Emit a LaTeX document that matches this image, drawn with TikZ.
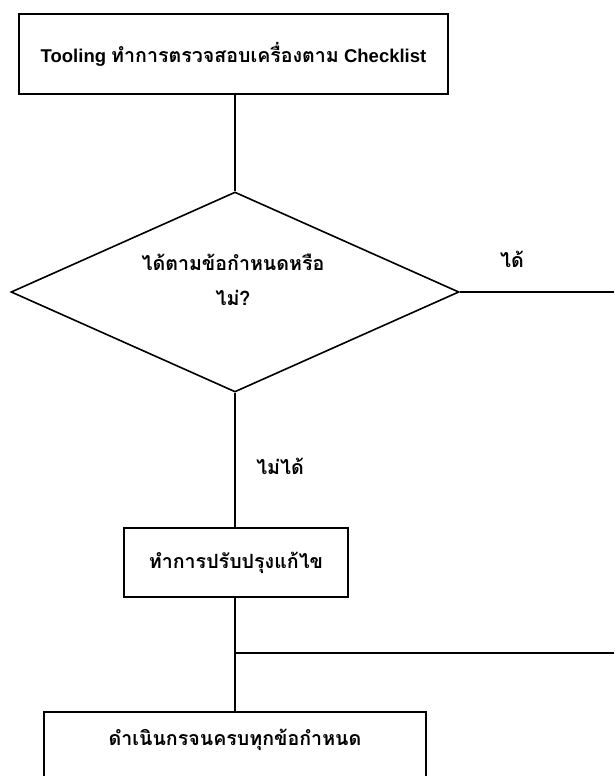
\documentclass[tikz,border=0pt]{standalone}
\usepackage{fontspec}
\setmainfont{Liberation Sans}
\newfontfamily\thai[Script=Thai,Scale=1.06]{Loma}
\usetikzlibrary{shapes.geometric}
\tikzset{
  box/.style={draw, line width=1.6pt, rectangle, inner sep=0pt, align=center},
  conn/.style={line width=1.6pt},
  lbl/.style={inner sep=0pt, align=center},
}
\begin{document}
\begin{tikzpicture}[x=1pt,y=-1pt,font=\bfseries\fontsize{18.5}{35}\selectfont]
\useasboundingbox (0,0) rectangle (614,776);
\clip (0,0) rectangle (614,776);
\node[box, minimum width=429pt, minimum height=80pt] (top) at (233.5,54)
  {Tooling {\thai ทำการตรวจสอบเครื่องตาม} Checklist};
\node[draw, line width=1.6pt, diamond, minimum width=448pt, minimum height=200pt, inner sep=0pt] (dec) at (235,292) {};
\node[lbl] (dtext) at (233,280) {\thai ได้ตามข้อกำหนดหรือ\\\thai ไม่?};
\node[lbl] (yes) at (512,259) {\thai ได้};
\coordinate (yend) at (614,292);
\node[box, minimum width=224pt, minimum height=69pt] (fix) at (236,562.5) {\thai ทำการปรับปรุงแก้ไข};
\node[box, anchor=north, minimum width=382pt, inner ysep=0pt, text height=34pt, text depth=53pt] (done) at (235,711) {\thai ดำเนินกรจนครบทุกข้อกำหนด};
\node[lbl] (no) at (280,466) {\thai ไม่ได้};
\coordinate (j) at (235,653);
\coordinate (jend) at (614,653);
\draw[conn] (top.south -| dec.north) -- (dec.north);
\draw[conn] (dec.east) -- (yend);
\draw[conn] (dec.south) -- (fix.north -| dec.south);
\draw[conn] (fix.south -| j) -- (done.north -| j);
\draw[conn] (j) -- (jend);
\end{tikzpicture}
\end{document}
